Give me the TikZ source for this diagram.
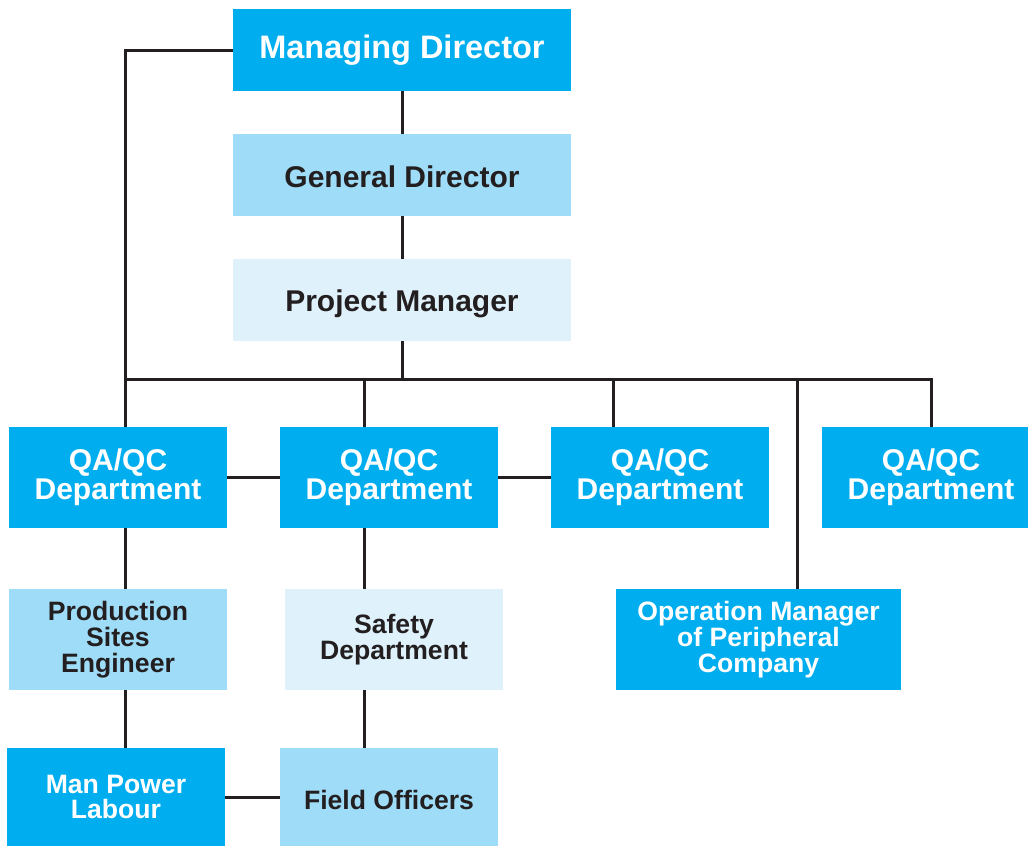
\documentclass[tikz,border=0pt]{standalone}
\usepackage{fontspec}
\setmainfont{Liberation Sans}
\definecolor{cblue}{HTML}{00AEEF}
\definecolor{clight}{HTML}{9EDCF7}
\definecolor{cpale}{HTML}{DFF2FB}
\definecolor{cdark}{HTML}{231F20}
\tikzset{
  box/.style={rectangle, inner sep=0pt, align=center, font=\bfseries},
  bluebox/.style={box, fill=cblue, text=white},
  lightbox/.style={box, fill=clight, text=cdark},
  palebox/.style={box, fill=cpale, text=cdark},
  topsize/.style={minimum width=338pt, minimum height=82pt},
  midsize/.style={minimum width=218pt, minimum height=101pt},
  bigfont/.style={font=\bfseries\fontsize{30}{29}\selectfont},
  smallfont/.style={font=\bfseries\fontsize{26.6}{25.8}\selectfont},
  conn/.style={draw=cdark, line width=3pt, line join=miter},
}
\begin{document}
\begin{tikzpicture}[x=1pt, y=-1pt]
\useasboundingbox (0,0) rectangle (1028,846);
% top column
\node[bluebox, topsize, font=\bfseries\fontsize{32.5}{32}\selectfont] (MD) at (402,50) {Managing Director};
\node[lightbox, topsize, bigfont, text height=25pt, text depth=0pt] (GD) at (402,175) {General Director};
\node[palebox, topsize, bigfont, text height=23pt, text depth=0pt] (PM) at (402,300) {Project Manager};
% QA/QC row
\node[bluebox, midsize, bigfont] (QA1) at (118,477.5) {QA/QC\\Department};
\node[bluebox, midsize, bigfont] (QA2) at (389,477.5) {QA/QC\\Department};
\node[bluebox, midsize, bigfont] (QA3) at (660,477.5) {QA/QC\\Department};
\node[bluebox, midsize, bigfont] (QA4) at (931,477.5) {QA/QC\\Department};
% third row
\node[lightbox, midsize, smallfont] (PSE) at (118,639.5) {Production\\Sites\\Engineer};
\node[palebox, midsize, smallfont] (SD) at (394,639.5) {Safety\\Department};
\node[bluebox, midsize, minimum width=285pt, smallfont] (OM) at (758.5,639.5) {Operation Manager\\of Peripheral\\Company};
% bottom row
\node[bluebox, midsize, minimum height=98pt, smallfont] (MP) at (116,797) {Man Power\\Labour};
\node[lightbox, midsize, minimum height=98pt, smallfont, text height=25pt, text depth=0pt] (FO) at (389,797) {Field Officers};
% bus coordinates
\coordinate (b1) at (125,379);
\coordinate (b2) at (364,379);
\coordinate (b3) at (613,379);
\coordinate (b4) at (797,379);
\coordinate (b5) at (931,379);
% connectors
\draw[conn] (MD.south) -- (GD.north);
\draw[conn] (GD.south) -- (PM.north);
\draw[conn] (MD.west) -| (QA1.north -| b1);
\draw[conn] (PM.south) -- (PM.south |- b1);
\draw[conn] (b1) -- (b5) -- (QA4.north);
\draw[conn] (b2) -- (b2 |- QA2.north);
\draw[conn] (b3) -- (b3 |- QA3.north);
\draw[conn] (b4) -- (b4 |- OM.north);
\draw[conn] (QA1.east) -- (QA2.west);
\draw[conn] (QA2.east) -- (QA3.west);
\draw[conn] (QA1.south -| b1) -- (PSE.north -| b1);
\draw[conn] (PSE.south -| b1) -- (MP.north -| b1);
\draw[conn] (QA2.south -| b2) -- (SD.north -| b2);
\draw[conn] (SD.south -| b2) -- (FO.north -| b2);
\draw[conn] (MP.east) -- (FO.west);
\end{tikzpicture}
\end{document}
